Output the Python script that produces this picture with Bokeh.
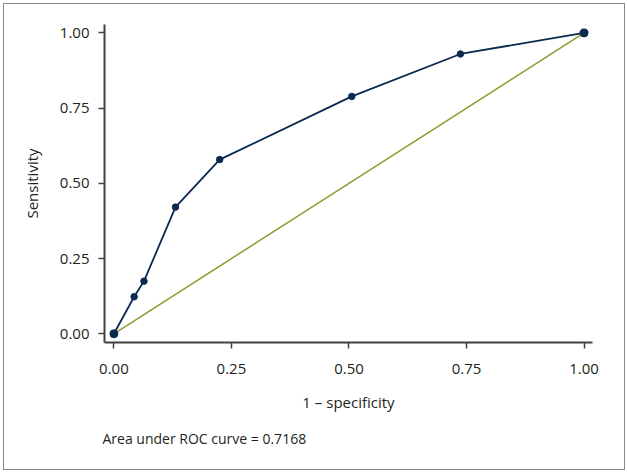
from bokeh.plotting import figure
from bokeh.models import Range1d, FixedTicker, Title, CustomJSTickFormatter
from bokeh.embed import file_html
from bokeh.resources import INLINE

# ROC data
fpr = [0.0, 0.043, 0.064, 0.131, 0.225, 0.506, 0.737, 1.0]
tpr = [0.0, 0.123, 0.175, 0.421, 0.579, 0.789, 0.930, 1.0]
ref_x = [0.0, 1.0]
ref_y = [0.0, 1.0]
ticks = [0.0, 0.25, 0.5, 0.75, 1.0]
auc_text = "Area under ROC curve = 0.7168"

FONT = "Open Sans"
NAVY = "#0b2a50"
GREEN = "#8a9b2c"
AXIS = "#404040"
TEXT = "#231f20"

p = figure(width=622, height=467, output_backend="svg", toolbar_location=None,
           x_range=Range1d(-0.02, 1.018), y_range=Range1d(-0.029, 1.028),
           min_border_left=100, min_border_right=34, min_border_top=20,
           min_border_bottom=129, margin=(3, 0, 0, 3),
           styles={"border": "1px solid #8a8a8a", "box-sizing": "border-box"})
p.outline_line_color = None
p.grid.visible = False
p.background_fill_color = "white"
p.border_fill_color = "white"

p.line(ref_x, ref_y, line_color=GREEN, line_width=1.5)
p.line(fpr, tpr, line_color=NAVY, line_width=1.8)
sizes = [8 if i in (0, len(fpr) - 1) else 6.5 for i in range(len(fpr))]
p.scatter(fpr, tpr, size=sizes, fill_color=NAVY, line_color=NAVY)

fmt = CustomJSTickFormatter(code="return tick.toFixed(2);")
for ax in (p.xaxis[0], p.yaxis[0]):
    ax.ticker = FixedTicker(ticks=ticks)
    ax.formatter = fmt
    ax.axis_line_color = AXIS
    ax.axis_line_width = 2
    ax.major_tick_line_color = AXIS
    ax.major_tick_line_width = 1.5
    ax.major_tick_out = 6
    ax.major_tick_in = 0
    ax.minor_tick_line_color = None
    ax.major_label_text_font = FONT
    ax.major_label_text_font_size = "15px"
    ax.major_label_text_color = TEXT
    ax.axis_label_text_font = FONT
    ax.axis_label_text_font_size = "15px"
    ax.axis_label_text_font_style = "normal"
    ax.axis_label_text_color = TEXT

p.xaxis.axis_label = "1 – specificity"
p.yaxis.axis_label = "Sensitivity"
p.xaxis.major_label_standoff = 15
p.xaxis.axis_label_standoff = 15
p.yaxis.major_label_standoff = 9
p.yaxis.axis_label_standoff = 15
p.yaxis.major_label_orientation = "horizontal"

t = Title(text=auc_text, align="left", text_font=FONT, text_font_size="14px",
          text_font_style="normal", text_color=TEXT, offset=-2, standoff=24)
p.add_layout(t, "below")

open("out.html", "w").write(file_html(p, INLINE))
